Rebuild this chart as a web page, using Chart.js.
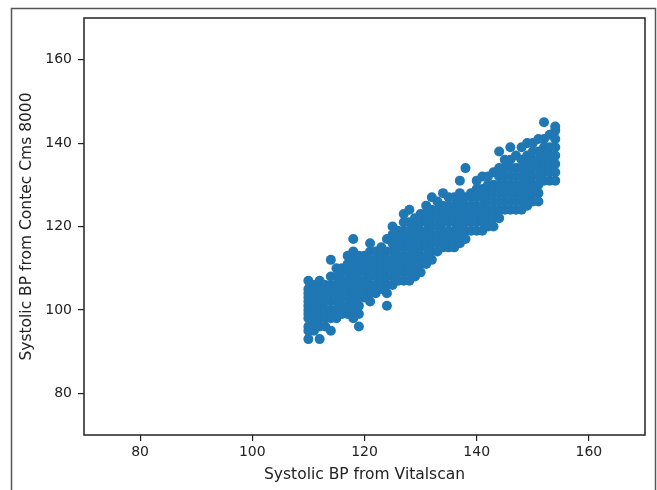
<!DOCTYPE html>
<html>
<head>
<meta charset="utf-8">
<title>Systolic BP comparison</title>
<script src="https://cdn.jsdelivr.net/npm/chart.js@4.4.1/dist/chart.umd.min.js"></script>
<style>
    html, body { margin: 0; padding: 0; background: #fff; }
    #bpChart { display: block; }
</style>
</head>
<body>
<canvas id="bpChart" width="657" height="490"></canvas>
<script>
// paired readings: one entry per measurement, grouped by Vitalscan value
const vitalscanBP = [
    110,110,110,110,110,110,110,110,110,110,110,110,
    111,111,111,111,111,111,111,
    112,112,112,112,112,112,112,112,
    113,113,113,113,113,113,
    114,114,114,114,114,114,114,114,
    115,115,115,115,115,115,115,
    116,116,116,116,116,116,116,
    117,117,117,117,117,117,117,117,
    118,118,118,118,118,118,118,118,118,118,
    119,119,119,119,119,119,119,119,119,
    120,120,120,120,120,120,
    121,121,121,121,121,121,121,121,
    122,122,122,122,122,122,
    123,123,123,123,123,123,
    124,124,124,124,124,124,124,124,
    125,125,125,125,125,125,125,125,
    126,126,126,126,126,126,126,
    127,127,127,127,127,127,127,127,127,
    128,128,128,128,128,128,128,128,128,
    129,129,129,129,129,129,129,129,
    130,130,130,130,130,130,130,130,
    131,131,131,131,131,131,131,131,
    132,132,132,132,132,132,132,132,
    133,133,133,133,133,133,133,
    134,134,134,134,134,134,134,
    135,135,135,135,135,135,135,
    136,136,136,136,136,136,136,
    137,137,137,137,137,137,137,137,
    138,138,138,138,138,138,138,
    139,139,139,139,139,139,
    140,140,140,140,140,140,140,
    141,141,141,141,141,141,141,
    142,142,142,142,142,142,142,
    143,143,143,143,143,143,143,
    144,144,144,144,144,144,144,144,
    145,145,145,145,145,145,145,
    146,146,146,146,146,146,146,146,
    147,147,147,147,147,147,147,
    148,148,148,148,148,148,148,148,
    149,149,149,149,149,149,149,149,
    150,150,150,150,150,150,150,150,
    151,151,151,151,151,151,151,151,
    152,152,152,152,152,152,152,
    153,153,153,153,153,153,
    154,154,154,154,154,154,154,154
];

const contecBP = [
    93,95,96,98,99,100,101,102,103,104,105,107,
    95,97,99,101,102,104,106,
    93,96,98,100,101,103,105,107,
    96,98,100,102,104,106,
    95,98,100,102,104,106,108,112,
    98,100,102,104,106,108,110,
    99,101,103,105,107,109,110,
    99,101,103,105,107,109,111,113,
    98,100,102,104,106,108,110,112,114,117,
    96,99,101,103,105,107,109,111,113,
    103,105,107,109,111,113,
    102,104,106,108,110,112,114,116,
    104,106,108,110,112,114,
    105,107,109,111,113,115,
    101,104,106,108,110,112,114,117,
    106,108,110,112,114,116,118,120,
    107,109,111,113,115,117,119,
    107,109,111,113,115,117,119,121,123,
    107,109,111,113,115,117,119,121,124,
    108,110,112,114,116,118,120,122,
    109,111,113,115,117,119,121,123,
    111,113,115,117,119,121,123,125,
    112,114,116,118,120,122,124,127,
    114,116,118,120,122,124,126,
    115,117,119,121,123,125,128,
    115,117,119,121,123,125,127,
    115,117,119,121,123,125,127,
    116,118,120,122,124,126,128,131,
    117,119,121,123,125,127,134,
    119,121,123,125,127,128,
    119,121,123,125,127,129,131,
    119,121,123,125,127,129,132,
    120,122,124,126,128,130,132,
    120,122,124,126,128,130,133,
    122,124,126,128,130,132,134,138,
    124,126,128,130,132,134,136,
    124,126,128,130,132,134,136,139,
    124,126,128,130,132,134,137,
    124,126,128,130,132,134,136,139,
    125,127,129,131,133,135,137,140,
    126,128,130,132,134,136,138,140,
    126,128,130,132,134,136,138,141,
    131,133,135,137,139,141,145,
    131,133,135,137,139,142,
    131,133,135,137,139,141,143,144
];

const xTickValues = [80, 100, 120, 140, 160];
const yTickValues = [80, 100, 120, 140, 160];

const points = vitalscanBP.map((v, i) => ({ x: v, y: contecBP[i] }));

const tickFont = { family: 'DejaVu Sans', size: 14 };
const titleFont = { family: 'DejaVu Sans', size: 15.5 };
const inkColor = '#222';

// outer figure frame plus the full box around the plot area
const framePlugin = {
    id: 'frame',
    beforeDraw(chart) {
        const ctx = chart.ctx;
        ctx.save();
        ctx.strokeStyle = '#555';
        ctx.lineWidth = 1.5;
        ctx.beginPath();
        ctx.moveTo(11.5, 495);
        ctx.lineTo(11.5, 8.5);
        ctx.lineTo(655.5, 8.5);
        ctx.lineTo(655.5, 495);
        ctx.stroke();
        ctx.restore();
    },
    afterDraw(chart) {
        const a = chart.chartArea;
        const ctx = chart.ctx;
        ctx.save();
        ctx.strokeStyle = '#222';
        ctx.lineWidth = 1.5;
        ctx.strokeRect(a.left, a.top, a.right - a.left, a.bottom - a.top);
        ctx.restore();
    }
};

new Chart(document.getElementById('bpChart'), {
    type: 'scatter',
    data: {
        datasets: [{
            data: points,
            backgroundColor: '#1f77b4',
            borderWidth: 0,
            pointRadius: 5,
            pointHoverRadius: 5
        }]
    },
    options: {
        responsive: false,
        animation: false,
        layout: { padding: { top: 18, right: 12, left: 0, bottom: 0 } },
        plugins: {
            legend: { display: false },
            tooltip: { enabled: false }
        },
        scales: {
            x: {
                type: 'linear',
                min: 70,
                max: 170,
                afterBuildTicks: scale => { scale.ticks = xTickValues.map(v => ({ value: v })); },
                afterFit: scale => { scale.height = 55; },
                ticks: { font: tickFont, color: inkColor, padding: 3, maxRotation: 0 },
                grid: { drawOnChartArea: false, drawTicks: true, tickLength: 6, color: '#222', lineWidth: 1.2 },
                border: { display: false },
                title: {
                    display: true,
                    text: 'Systolic BP from Vitalscan',
                    font: titleFont,
                    color: inkColor,
                    padding: { top: 0, bottom: 6 }
                }
            },
            y: {
                type: 'linear',
                min: 70,
                max: 170,
                afterBuildTicks: scale => { scale.ticks = yTickValues.map(v => ({ value: v })); },
                afterFit: scale => { scale.width = 84; },
                ticks: { font: tickFont, color: inkColor, padding: 6 },
                grid: { drawOnChartArea: false, drawTicks: true, tickLength: 6, color: '#222', lineWidth: 1.2 },
                border: { display: false },
                title: {
                    display: true,
                    text: 'Systolic BP from Contec Cms 8000',
                    font: titleFont,
                    color: inkColor,
                    padding: { top: 18, bottom: 0 }
                }
            }
        }
    },
    plugins: [framePlugin]
});
</script>
</body>
</html>
